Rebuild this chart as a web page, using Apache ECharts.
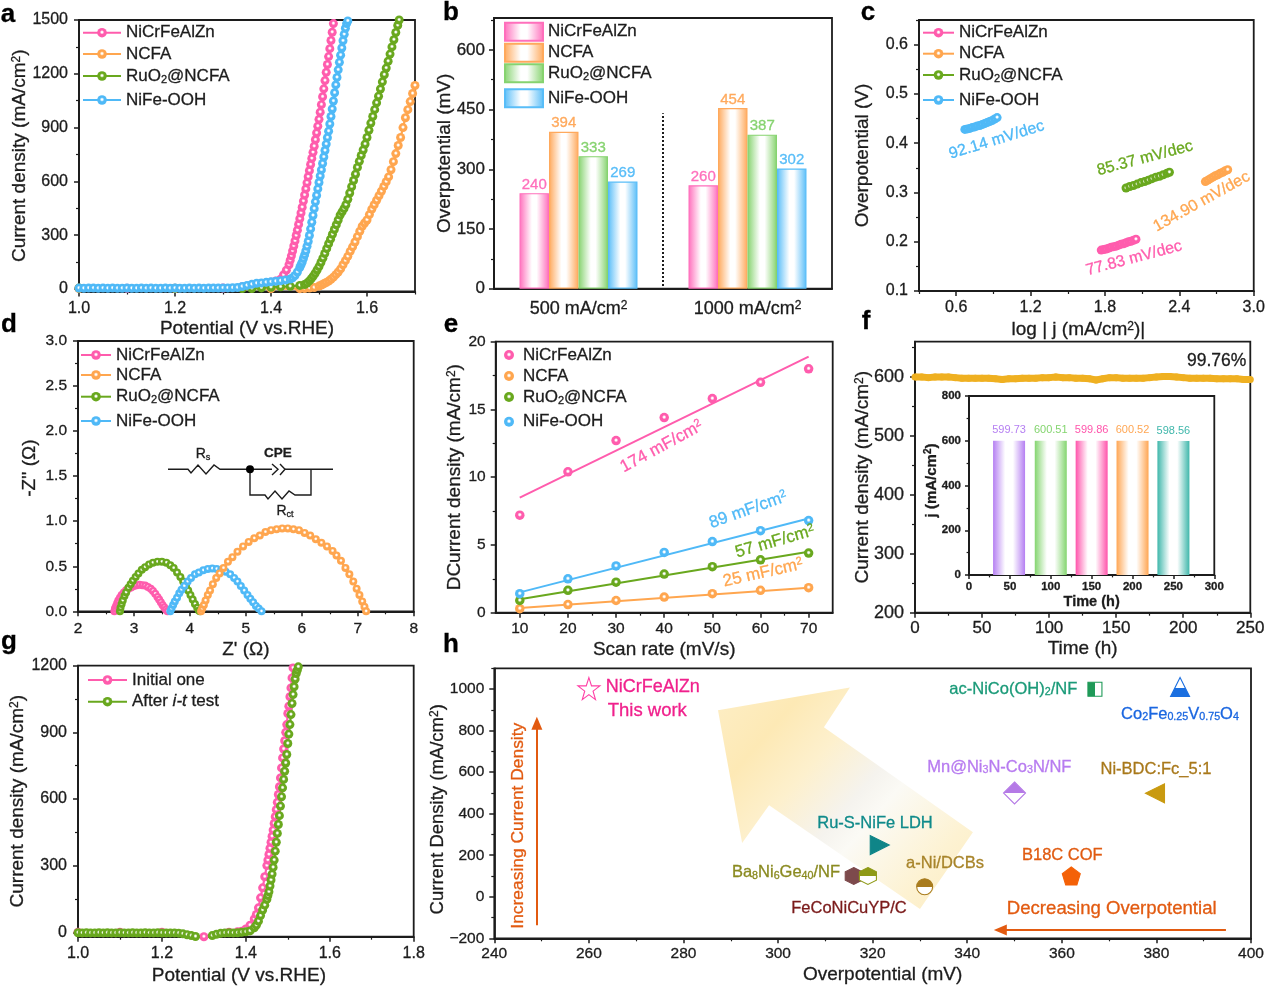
<!DOCTYPE html>
<html><head><meta charset="utf-8">
<style>html,body{margin:0;padding:0;background:#fff}#c{width:1268px;height:987px}</style>
<script src="https://cdn.jsdelivr.net/npm/echarts@6/dist/echarts.min.js"></script>
</head><body><div id="c"></div>
<script>
const PINK='#ff5cad',ORANGE='#ffa64f',GREEN='#69a81e',BLUE='#4fb9f7',INK='#1c1c1c';
const FONT='"Liberation Sans",Arial,sans-serif';

// a: LSV
const aPink=[[1,4],[1.1,4],[1.2,4],[1.3,5],[1.34,12],[1.36,22],[1.38,30],[1.4,38],[1.41,44],[1.42,55],[1.426,78],[1.432,105],[1.4375,135],[1.44,160],[1.4425,185],[1.445,212],[1.4475,240],[1.45,268],[1.4525,298],[1.455,328],[1.4575,360],[1.46,392],[1.4625,424],[1.465,456],[1.4675,490],[1.47,524],[1.4725,558],[1.475,592],[1.4775,626],[1.48,660],[1.4825,694],[1.485,728],[1.4875,762],[1.49,796],[1.4925,832],[1.495,870],[1.4975,908],[1.5,946],[1.5025,986],[1.505,1028],[1.5075,1072],[1.51,1116],[1.5125,1162],[1.515,1208],[1.5175,1252],[1.52,1296],[1.5225,1340],[1.525,1386],[1.5275,1432],[1.53,1480],[1.5325,1505]];
const aOrange=[[1,3],[1.2,3],[1.4,2],[1.46,2],[1.47,3],[1.48,5],[1.49,8],[1.5,16],[1.505,22],[1.51,29],[1.515,36],[1.52,44],[1.525,54],[1.53,66],[1.535,80],[1.54,95],[1.545,112],[1.55,135],[1.555,158],[1.56,182],[1.565,210],[1.57,235],[1.575,262],[1.58,292],[1.585,322],[1.59,350],[1.595,368],[1.6,385],[1.605,415],[1.61,445],[1.615,470],[1.62,495],[1.625,520],[1.63,545],[1.635,572],[1.64,598],[1.645,625],[1.65,665],[1.655,710],[1.66,755],[1.665,800],[1.67,845],[1.675,900],[1.68,955],[1.685,1000],[1.69,1045],[1.695,1090],[1.7,1135]];
const aGreen=[[1,5],[1.2,4],[1.34,3],[1.36,3],[1.38,6],[1.4,10],[1.42,12],[1.44,15],[1.46,20],[1.47,25],[1.475,33],[1.48,45],[1.484,58],[1.488,72],[1.492,88],[1.496,106],[1.5,125],[1.504,148],[1.508,172],[1.512,198],[1.516,225],[1.52,252],[1.524,278],[1.528,305],[1.532,332],[1.536,358],[1.54,385],[1.544,412],[1.548,430],[1.552,448],[1.556,470],[1.56,500],[1.564,535],[1.568,570],[1.572,605],[1.576,640],[1.58,678],[1.584,712],[1.588,745],[1.592,775],[1.596,808],[1.6,845],[1.604,885],[1.608,925],[1.612,962],[1.616,1000],[1.62,1038],[1.624,1075],[1.628,1115],[1.632,1155],[1.636,1195],[1.64,1232],[1.644,1270],[1.648,1310],[1.652,1350],[1.656,1390],[1.66,1430],[1.664,1470],[1.667,1500]];
const aBlue=[[1,5],[1.01,4],[1.02,5],[1.03,5],[1.04,4],[1.05,5],[1.06,4],[1.07,5],[1.08,4],[1.09,4],[1.1,5],[1.11,4],[1.12,4],[1.13,5],[1.14,4],[1.15,5],[1.16,4],[1.17,4],[1.18,5],[1.19,4],[1.2,5],[1.21,4],[1.22,4],[1.23,5],[1.24,4],[1.25,5],[1.26,4],[1.27,5],[1.28,5],[1.29,5],[1.3,6],[1.31,6],[1.32,7],[1.33,8],[1.34,14],[1.35,20],[1.36,26],[1.37,32],[1.38,34],[1.39,37],[1.4,40],[1.41,43],[1.42,46],[1.43,50],[1.44,56],[1.445,62],[1.45,75],[1.455,95],[1.46,120],[1.4625,135],[1.465,150],[1.4675,170],[1.47,190],[1.4725,212],[1.475,238],[1.4775,265],[1.48,298],[1.4825,335],[1.485,372],[1.4875,410],[1.49,448],[1.4925,486],[1.495,522],[1.4975,558],[1.5,594],[1.5025,630],[1.505,664],[1.5075,700],[1.51,736],[1.5125,772],[1.515,808],[1.5175,844],[1.52,880],[1.5225,920],[1.525,962],[1.5275,1004],[1.53,1048],[1.5325,1094],[1.535,1138],[1.5375,1180],[1.54,1222],[1.5425,1264],[1.545,1304],[1.5475,1344],[1.55,1384],[1.5525,1420],[1.555,1454],[1.5575,1480],[1.56,1495],[1.565,1505]];

// b: overpotential bars
const bCats=['500 mA/cm2','1000 mA/cm2'];
const bPink=[240,260],bOrange=[394,454],bGreen=[333,387],bBlue=[269,302];
const bDivider=[[1,7],[1,441]];

// c: Tafel
const cPink=[[1.77,.183],[1.79,.184],[1.81,.185],[1.83,.187],[1.85,.189],[1.87,.19],[1.89,.191],[1.91,.193],[1.93,.195],[1.95,.196],[1.97,.198],[1.99,.2],[2.01,.201],[2.03,.203],[2.05,.205]];
const cBlue=[[.67,.428],[.69,.429],[.71,.43],[.73,.432],[.75,.433],[.77,.435],[.79,.436],[.81,.438],[.83,.44],[.85,.442],[.87,.444],[.89,.446],[.91,.449],[.93,.452]];
const cGreen=[[1.97,.309],[2,.312],[2.03,.314],[2.06,.317],[2.09,.32],[2.12,.322],[2.15,.325],[2.18,.328],[2.21,.331],[2.24,.333],[2.27,.336],[2.3,.339],[2.32,.341]];
const cOrange=[[2.61,.322],[2.63,.325],[2.65,.328],[2.67,.331],[2.69,.334],[2.71,.336],[2.73,.339],[2.75,.341],[2.77,.344],[2.79,.346]];

// d: Nyquist
const dPink=[[2.65,0],[2.66,.03],[2.68,.06],[2.7,.09],[2.72,.12],[2.75,.15],[2.78,.18],[2.82,.21],[2.86,.235],[2.9,.25],[2.95,.265],[3,.28],[3.05,.29],[3.1,.295],[3.15,.29],[3.2,.285],[3.25,.27],[3.3,.25],[3.34,.225],[3.38,.195],[3.42,.16],[3.45,.13],[3.48,.1],[3.51,.07],[3.54,.045],[3.57,.02],[3.6,0]];
const dGreen=[[2.75,0],[2.76,.04],[2.78,.08],[2.8,.12],[2.83,.17],[2.86,.21],[2.9,.26],[2.94,.3],[2.98,.34],[3.03,.38],[3.08,.42],[3.14,.46],[3.2,.49],[3.27,.52],[3.34,.54],[3.42,.55],[3.5,.55],[3.58,.54],[3.65,.51],[3.71,.48],[3.77,.43],[3.83,.38],[3.88,.33],[3.93,.28],[3.97,.23],[4.01,.18],[4.05,.13],[4.09,.08],[4.13,.04],[4.16,.01],[4.18,0]];
const dBlue=[[3.65,0],[3.67,.03],[3.7,.07],[3.73,.11],[3.77,.15],[3.81,.2],[3.85,.24],[3.9,.28],[3.96,.33],[4.02,.37],[4.09,.41],[4.16,.43],[4.24,.455],[4.32,.47],[4.4,.475],[4.48,.47],[4.56,.46],[4.64,.44],[4.72,.41],[4.79,.37],[4.85,.33],[4.91,.28],[4.97,.23],[5.03,.18],[5.08,.14],[5.13,.1],[5.18,.06],[5.23,.03],[5.28,0]];
const dOrange=[[4.2,0],[4.22,.03],[4.25,.07],[4.28,.12],[4.32,.18],[4.36,.23],[4.41,.3],[4.47,.37],[4.53,.42],[4.6,.48],[4.68,.55],[4.76,.6],[4.85,.66],[4.95,.72],[5.05,.77],[5.15,.81],[5.25,.84],[5.35,.88],[5.45,.9],[5.55,.91],[5.65,.92],[5.75,.92],[5.85,.91],[5.95,.9],[6.05,.87],[6.15,.84],[6.25,.8],[6.35,.76],[6.45,.72],[6.55,.67],[6.62,.62],[6.7,.56],[6.78,.48],[6.85,.41],[6.92,.33],[6.98,.25],[7.03,.18],[7.08,.11],[7.12,.05],[7.15,0]];

// e: double layer
const eRates=[10,20,30,40,50,60,70];
const ePink=[7.2,10.4,12.7,14.4,15.8,17.0,18.0];
const eOrange=[.3,.6,.9,1.15,1.4,1.65,1.85];
const eGreen=[.9,1.65,2.25,2.85,3.4,3.9,4.4];
const eBlue=[1.4,2.5,3.45,4.45,5.25,6.05,6.8];
const eFitPink=[[10,8.5],[70,18.9]],eFitOrange=[[10,.35],[70,1.85]],eFitGreen=[[10,1],[70,4.5]],eFitBlue=[[10,1.5],[70,6.95]];

// f: stability + inset
const fTime=[0,5,10,15,20,25,30,35,40,45,50,55,60,65,70,75,80,85,90,95,100,105,110,115,120,125,130,135,140,145,150,155,160,165,170,175,180,185,190,195,200,205,210,215,220,225,230,235,240,245,250];
const fJ=[600,600,599,600,600,600,599,598,598,598,598,598,597,596,597,597,598,598,598,599,599,600,599,599,598,598,597,595,597,599,599,598,598,598,598,599,600,601,601,600,599,598,598,598,598,597,597,597,597,596,596];
const insetX=[49,100,150,200,250];
const insetJ=[599.73,600.51,599.86,600.52,598.56];
const insetLabels=['599.73','600.51','599.86','600.52','598.56'];
const insetColors=['#b57ff2','#84d56f','#ff54ab','#ffa653','#3fb7ab'];

// g: before/after
const gGreen=[[1,-2],[1.01,-3],[1.02,-2],[1.03,-3],[1.04,-3],[1.05,-2],[1.06,-3],[1.07,-2],[1.08,-3],[1.09,-3],[1.1,-2],[1.11,-3],[1.12,-3],[1.13,-2],[1.14,-3],[1.15,-3],[1.16,-2],[1.17,-3],[1.18,-3],[1.19,-2],[1.2,-3],[1.21,-3],[1.22,-3],[1.23,-3],[1.24,-4],[1.25,-7],[1.26,-11],[1.27,-15],[1.28,-19],[1.29,-24],[1.3,-27],[1.31,-22],[1.32,-15],[1.33,-9],[1.34,-5],[1.35,-3],[1.36,-2],[1.37,-3],[1.38,-2],[1.39,0],[1.4,2],[1.41,6],[1.42,20],[1.425,32],[1.43,50],[1.435,75],[1.44,100],[1.445,122],[1.45,148],[1.4525,165],[1.455,182],[1.4575,208],[1.46,235],[1.4625,262],[1.465,292],[1.4675,325],[1.47,365],[1.4725,405],[1.475,445],[1.4775,485],[1.48,525],[1.4825,568],[1.485,610],[1.4875,650],[1.49,688],[1.4925,725],[1.495,762],[1.4975,800],[1.5,850],[1.5025,892],[1.505,935],[1.5075,980],[1.51,1030],[1.5125,1070],[1.515,1105],[1.5175,1140],[1.52,1165],[1.5225,1180],[1.525,1195],[1.5275,1210]];
const gPink=[[1,0],[1.1,0],[1.2,0],[1.3,-20],[1.36,0],[1.38,2],[1.39,5],[1.4,15],[1.41,32],[1.42,60],[1.425,80],[1.43,110],[1.435,155],[1.44,200],[1.445,250],[1.45,300],[1.4525,325],[1.455,350],[1.4575,378],[1.46,405],[1.4625,432],[1.465,460],[1.4675,490],[1.47,520],[1.4725,552],[1.475,585],[1.4775,620],[1.48,655],[1.4825,695],[1.485,740],[1.4875,785],[1.49,825],[1.4925,862],[1.495,900],[1.4975,935],[1.5,985],[1.5025,1018],[1.505,1060],[1.5075,1100],[1.51,1145],[1.5125,1190],[1.515,1230]];

// h: comparison
const hNames=['NiCrFeAlZn','FeCoNiCuYP/C','Ba8Ni6Ge40/NF','a-Ni/DCBs','Ru-S-NiFe LDH','B18C COF','Mn@Ni3N-Co3N/NF','Ni-BDC:Fc_5:1','ac-NiCo(OH)2/NF','Co2Fe0.25V0.75O4'];
const hX=[260,316,319,331,321.5,362,350,379.7,367,385];
const hY=[1002,100,100,48,249,100,500,498,999,1010];
const hArrow=[[287.3,898],[315.2,1008],[309.7,816],[341.2,311],[330,-59],[298.1,441],[292.4,259]];
const hUpArrow=[[249,-137],[249,835]];
const hLeftArrow=[[394.7,-160],[347,-160]];

// ---------- helpers ----------
const grid=[],xAxis=[],yAxis=[],series=[],legend=[],graphic=[];
const HEAVY={textBorderColor:INK,textBorderWidth:.3};
const supR=s=>({sup:Object.assign({fontSize:Math.round(s*.65),fontFamily:FONT,color:INK,padding:[0,0,7,0]},HEAVY),sub:Object.assign({fontSize:Math.round(s*.65),fontFamily:FONT,color:INK,padding:[6,0,0,0]},HEAVY)});
function axisCommon(o){
  return Object.assign({min:o.min,max:o.max,position:o.position,gridIndex:o.g,type:'value',scale:true,splitLine:{show:false},
    axisLine:{show:true,onZero:false,lineStyle:{color:INK,width:o.lw||2}}},o.extra||{});
}
function panel(p){
  const g=grid.length, lw=p.lw||1.8;
  grid.push({left:p.l,top:p.t,width:p.r-p.l,height:p.b-p.t,show:true,borderColor:INK,borderWidth:lw,backgroundColor:'transparent',containLabel:false});
  const fs=p.fs||16, ns=p.ns||19, w=p.w||'normal';
  const ix=xAxis.length, iy=yAxis.length;
  const lab=(vals,dec,size,margin)=>Object.assign({show:true,customValues:vals,fontSize:size,fontWeight:w,color:INK,fontFamily:FONT,margin,
    formatter:v=>Number(v).toFixed(dec).replace('-','\u2212')},HEAVY);
  const nm=(txt,gap,size,extra)=>({name:txt,nameLocation:'middle',nameGap:gap,nameMoveOverlap:false,nameTextStyle:Object.assign({fontSize:size,fontWeight:w,color:INK,fontFamily:FONT,verticalAlign:'middle',rich:supR(size)},HEAVY,extra||{})});
  xAxis.push(Object.assign(axisCommon({g,min:p.x[0],max:p.x[1],position:'bottom',lw}),
    {axisTick:{show:true,customValues:p.xMajor,length:p.tick||5,lineStyle:{color:INK,width:1.5}},
     axisLabel:lab(p.xMajor,p.xDec||0,p.xfs||fs,p.xm||9)},nm(p.xName,p.xGap,p.xns||ns,p.xNameExtra)));
  xAxis.push(Object.assign(axisCommon({g,min:p.x[0],max:p.x[1],position:'bottom',lw}),
    {axisLine:{show:false,onZero:false},axisLabel:{show:false},axisTick:{show:true,customValues:p.xMinor,length:(p.tick||5)*.6,lineStyle:{color:INK,width:1.2}}}));
  yAxis.push(Object.assign(axisCommon({g,min:p.y[0],max:p.y[1],position:'left',lw}),
    {axisTick:{show:true,customValues:p.yMajor,length:p.tick||5,lineStyle:{color:INK,width:1.5}},
     axisLabel:lab(p.yMajor,p.yDec||0,p.yfs||fs,p.ym||11)},nm(p.yName,p.yGap,p.yns||ns,p.yNameExtra)));
  yAxis.push(Object.assign(axisCommon({g,min:p.y[0],max:p.y[1],position:'left',lw}),
    {axisLine:{show:false,onZero:false},axisLabel:{show:false},axisTick:{show:true,customValues:p.yMinor,length:(p.tick||5)*.6,lineStyle:{color:INK,width:1.2}}}));
  return {g,ix,iy};
}
const ball=c=>({type:'radial',x:.5,y:.45,r:.55,colorStops:[{offset:0,color:'#fff'},{offset:.14,color:'#fff'},{offset:.42,color:c},{offset:1,color:c}]});
function chain(P,name,data,color,size,lw){
  series.push({type:'line',name,xAxisIndex:P.ix,yAxisIndex:P.iy,data,symbol:'circle',symbolSize:size,showSymbol:true,
    lineStyle:{color,width:lw||2.2},itemStyle:{color:ball(color),borderWidth:0},silent:true,animation:false,z:3});
}
function items(list,left,iw,ih,icon){
  list.forEach(([name,yc])=>legend.push(Object.assign({show:true,left,top:yc-9,padding:0,orient:'horizontal',itemWidth:iw,itemHeight:ih,selectedMode:false,
    data:[name],formatter:n=>n.split('#')[0].replace('RuO2','RuO{sub|2}').replace('After i-t test','After {it|i-t} test'),
    textStyle:Object.assign({fontSize:17,color:INK,fontFamily:FONT,lineHeight:20,rich:{sub:Object.assign({fontSize:11,fontFamily:FONT,color:INK,padding:[7,0,0,0],lineHeight:20},HEAVY),it:Object.assign({fontSize:17,fontStyle:'italic',color:INK,fontFamily:FONT,lineHeight:20},HEAVY)}},HEAVY)},icon?{icon}:{})));
}
function T(text,x,y,fill,size,rotDeg,opt){
  opt=opt||{};
  const s=size||16,c=fill||INK;
  graphic.push({type:'text',x,y,rotation:(rotDeg||0)*Math.PI/180,silent:true,z:20,style:{text,fill:c,stroke:c,lineWidth:.3,fontSize:s,fontFamily:FONT,fontWeight:opt.w||'normal',align:opt.align||'center',verticalAlign:'middle',
    rich:{sup:{fontSize:s*.65,fontFamily:FONT,fill:c,stroke:c,lineWidth:.3,padding:[0,0,7,0]},sub:{fontSize:s*.65,fontFamily:FONT,fill:c,stroke:c,lineWidth:.3,padding:[6,0,0,0]}}}});
}
const L=(pts,lw)=>graphic.push({type:'polyline',silent:true,z:20,shape:{points:pts},style:{stroke:INK,lineWidth:lw||1.4,fill:null}});

// ---------- a ----------
const pa=panel({l:79,r:415,t:20,b:291.5,x:[1,1.7],y:[-14,1500],xMajor:[1,1.2,1.4,1.6],xMinor:[1.1,1.3,1.5,1.7],xDec:1,yMajor:[0,300,600,900,1200,1500],yMinor:[150,450,750,1050,1350],
  xName:'Potential (V vs.RHE)',xGap:37,yName:'Current density (mA/cm{sup|2})',yGap:59});
chain(pa,'NiCrFeAlZn#a',aPink,PINK,9);chain(pa,'NCFA#a',aOrange,ORANGE,9);chain(pa,'RuO2@NCFA#a',aGreen,GREEN,9);chain(pa,'NiFe-OOH#a',aBlue,BLUE,9);
items([['NiCrFeAlZn#a',31.7],['NCFA#a',53],['RuO2@NCFA#a',75],['NiFe-OOH#a',99]],82,38,12);

// ---------- b ----------
const gb=grid.length;
grid.push({left:494,top:18,width:338,height:270.7,show:true,borderColor:INK,borderWidth:1.8,backgroundColor:'transparent'});
const bx=xAxis.length,by=yAxis.length;
xAxis.push({type:'category',gridIndex:gb,data:bCats,position:'bottom',axisLine:{show:true,onZero:false,lineStyle:{color:INK,width:2}},axisTick:{show:false},
  axisLabel:Object.assign({interval:0,hideOverlap:false,fontSize:18,color:INK,fontFamily:FONT,margin:11,formatter:v=>v.replace(/2$/,'{sup|2}'),rich:supR(18)},HEAVY)});
xAxis.push({type:'value',gridIndex:gb,min:0,max:2,show:false});
yAxis.push({type:'value',gridIndex:gb,min:0,max:680,position:'left',splitLine:{show:false},axisLine:{show:true,onZero:false,lineStyle:{color:INK,width:2}},
  axisTick:{show:true,customValues:[0,150,300,450,600],length:5,lineStyle:{color:INK,width:1.5}},
  axisLabel:Object.assign({customValues:[0,150,300,450,600],fontSize:17,color:INK,fontFamily:FONT,margin:9},HEAVY),
  name:'Overpotential (mV)',nameLocation:'middle',nameGap:49,nameMoveOverlap:false,nameTextStyle:Object.assign({fontSize:19,color:INK,fontFamily:FONT,verticalAlign:'middle'},HEAVY)});
yAxis.push({type:'value',gridIndex:gb,min:0,max:680,position:'left',splitLine:{show:false},axisLine:{show:false,onZero:false},axisLabel:{show:false},
  axisTick:{show:true,customValues:[75,225,375,525,675],length:3,lineStyle:{color:INK,width:1.2}}});
const barGrad=c=>({type:'linear',x:0,y:0,x2:1,y2:0,colorStops:[{offset:0,color:c},{offset:.42,color:'#fff'},{offset:.58,color:'#fff'},{offset:1,color:c}]});
[['NiCrFeAlZn#b',bPink,'#ff6fbc'],['NCFA#b',bOrange,'#ffa95c'],['RuO2@NCFA#b',bGreen,'#86d36f'],['NiFe-OOH#b',bBlue,'#58bdf8']].forEach(([n,d,c])=>{
  series.push({type:'bar',name:n,xAxisIndex:bx,yAxisIndex:by,data:d,barWidth:29.5,barGap:'0%',animation:false,silent:true,
    itemStyle:{color:barGrad(c),borderColor:c,borderWidth:1.2},
    label:{show:true,position:'top',distance:1,fontSize:15,color:c,fontFamily:FONT,textBorderColor:c,textBorderWidth:.3}});
});
series.push({type:'line',name:'divider',xAxisIndex:bx+1,yAxisIndex:by,data:bDivider,symbol:'none',lineStyle:{color:INK,type:'dotted',width:2},animation:false,silent:true});
items([['NiCrFeAlZn#b',30.7],['NCFA#b',51.7],['RuO2@NCFA#b',72.3],['NiFe-OOH#b',97.3]],504,38,18,'rect');

// ---------- c ----------
const pc=panel({l:919,r:1256,t:20,b:291,x:[.3,3],y:[.1,.65],xMajor:[.6,1.2,1.8,2.4,3],xMinor:[.3,.9,1.5,2.1,2.7],xDec:1,yMajor:[.1,.2,.3,.4,.5,.6],yMinor:[.15,.25,.35,.45,.55,.65],yDec:1,
  xName:'log | j (mA/cm{sup|2})|',xGap:39,yName:'Overpotential (V)',yGap:56,xNameExtra:{padding:[0,16,0,0]}});
chain(pc,'NiCrFeAlZn#c',cPink,PINK,9);chain(pc,'NCFA#c',cOrange,ORANGE,9);chain(pc,'RuO2@NCFA#c',cGreen,GREEN,9);chain(pc,'NiFe-OOH#c',cBlue,BLUE,9);
items([['NiCrFeAlZn#c',31.7],['NCFA#c',52.7],['RuO2@NCFA#c',74],['NiFe-OOH#c',99]],922,31,12);
T('92.14 mV/dec',996.7,140,BLUE,16,17);
T('85.37 mV/dec',1145,158.3,GREEN,16,14.8);
T('134.90 mV/dec',1201.7,201.7,ORANGE,16,29);
T('77.83 mV/dec',1134,258.3,PINK,16,14.8);

// ---------- d ----------
const pd=panel({l:78,r:413.7,t:341,b:611.3,x:[2,8],y:[0,3],xMajor:[2,3,4,5,6,7,8],xMinor:[2.5,3.5,4.5,5.5,6.5,7.5],yMajor:[0,.5,1,1.5,2,2.5,3],yMinor:[.25,.75,1.25,1.75,2.25,2.75],yDec:1,
  xName:"Z' (\u03a9)",xGap:38,yName:"-Z'' (\u03a9)",yGap:48,yNameExtra:{padding:[0,0,0,16]},fs:15.5});
chain(pd,'NiCrFeAlZn#d',dPink,PINK,8);chain(pd,'RuO2@NCFA#d',dGreen,GREEN,8);chain(pd,'NiFe-OOH#d',dBlue,BLUE,8);chain(pd,'NCFA#d',dOrange,ORANGE,8);
items([['NiCrFeAlZn#d',354],['NCFA#d',374],['RuO2@NCFA#d',395.7],['NiFe-OOH#d',420]],80,30,12);
L([[168,469.3],[188,469.3],[191,473],[198,465],[206,474],[214,465],[220,469.3],[272,469.3]]);
L([[272,464],[278,469.3],[272,475]]);L([[280,464],[285,469.3],[280,475]]);L([[285,469.3],[333,469.3]]);
L([[250,469.3],[250,495],[265,495],[268,499],[275,491],[282,499],[289,491],[295,495],[311,495],[311,469.3]]);
graphic.push({type:'circle',silent:true,z:20,shape:{cx:250,cy:469.3,r:4},style:{fill:'#000'}});
T('R{sub|s}',203,454,INK,14);T('CPE',278,453.7,INK,13.5,0,{w:'bold'});T('R{sub|ct}',285,511,INK,14);

// ---------- e ----------
const pe=panel({l:495.7,r:832.7,t:341.7,b:612.7,x:[5,75],y:[0,20],xMajor:[10,20,30,40,50,60,70],xMinor:[15,25,35,45,55,65],yMajor:[0,5,10,15,20],yMinor:[2.5,7.5,12.5,17.5],
  xName:'Scan rate (mV/s)',xGap:37,yName:'DCurrent density (mA/cm{sup|2})',yGap:41,fs:15.5,xm:8,ym:10});
[['fitP',eFitPink,PINK],['fitO',eFitOrange,ORANGE],['fitG',eFitGreen,GREEN],['fitB',eFitBlue,BLUE]].forEach(([n,d,c])=>{
  series.push({type:'line',name:n,xAxisIndex:pe.ix,yAxisIndex:pe.iy,data:d,symbol:'none',lineStyle:{color:c,width:2},animation:false,silent:true});
});
[['NiCrFeAlZn#e',ePink,PINK],['NCFA#e',eOrange,ORANGE],['RuO2@NCFA#e',eGreen,GREEN],['NiFe-OOH#e',eBlue,BLUE]].forEach(([n,d,c])=>{
  series.push({type:'scatter',name:n,xAxisIndex:pe.ix,yAxisIndex:pe.iy,data:eRates.map((r,i)=>[r,d[i]]),symbol:'circle',symbolSize:9.5,itemStyle:{color:ball(c),opacity:1},animation:false,silent:true,z:4});
});
items([['NiCrFeAlZn#e',354],['NCFA#e',375],['RuO2@NCFA#e',396],['NiFe-OOH#e',420.7]],504,18,10);
T('174 mF/cm{sup|2}',661.7,446.7,PINK,17,28.4);
T('89 mF/cm{sup|2}',748.3,510,BLUE,17,19.7);
T('57 mF/cm{sup|2}',775,541.7,GREEN,17,16);
T('25 mF/cm{sup|2}',763,573,ORANGE,17,12.7);

// ---------- f ----------
const pf=panel({l:915,r:1250.3,t:341.7,b:612.7,x:[0,250],y:[200,660],xMajor:[0,50,100,150,200,250],xMinor:[25,75,125,175,225],yMajor:[200,300,400,500,600],yMinor:[250,350,450,550,650],
  xName:'Time (h)',xGap:36,yName:'Current density (mA/cm{sup|2})',yGap:52,fs:18,xfs:17,xm:7});
series.push({type:'line',name:'stability',xAxisIndex:pf.ix,yAxisIndex:pf.iy,data:fTime.map((t,i)=>[t,fJ[i]]),symbol:'circle',symbolSize:7,itemStyle:{color:'#efb021'},lineStyle:{color:'#efb021',width:7},animation:false,silent:true,z:3});
T('99.76%',1216.7,360.7,INK,17.5);

// inset
const pi=panel({l:969,r:1214.3,t:396,b:575,x:[0,300],y:[0,800],xMajor:[0,50,100,150,200,250,300],xMinor:[25,75,125,175,225,275],yMajor:[0,200,400,600,800],yMinor:[100,300,500,700],
  xName:'Time (h)',xGap:27,yName:'j (mA/cm{sup|2})',yGap:37,fs:11.5,xns:14.5,yns:15,tick:4,lw:1.8,w:'bold',yNameExtra:{padding:[0,0,0,10]},xm:6,ym:8});
series.push({type:'bar',name:'inset',xAxisIndex:pi.ix,yAxisIndex:pi.iy,animation:false,silent:true,barWidth:32,
  data:insetX.map((x,i)=>({value:[x,insetJ[i]],itemStyle:{color:{type:'linear',x:0,y:0,x2:1,y2:0,colorStops:[{offset:0,color:insetColors[i]},{offset:.38,color:'#fff'},{offset:.62,color:'#fff'},{offset:1,color:insetColors[i]}]}},
    label:{show:true,position:'top',distance:5,fontSize:11,color:insetColors[i],fontFamily:FONT,formatter:insetLabels[i]}}))});

// ---------- g ----------
const pg=panel({l:78,r:413.7,t:665.7,b:936.7,x:[1,1.8],y:[-20,1200],xMajor:[1,1.2,1.4,1.6,1.8],xMinor:[1.1,1.3,1.5,1.7],xDec:1,yMajor:[0,300,600,900,1200],yMinor:[150,450,750,1050],
  xName:'Potential (V vs.RHE)',xGap:39,yName:'Current density (mA/cm{sup|2})',yGap:60,xNameExtra:{padding:[0,14,0,0]}});
chain(pg,'Initial one#g',gPink,PINK,9);chain(pg,'After i-t test#g',gGreen,GREEN,9);
items([['Initial one#g',679],['After i-t test#g',700.7]],87,39,12);

// ---------- h ----------
const ph=panel({l:494.3,r:1251,t:668.3,b:938.3,x:[240,400],y:[-200,1100],xMajor:[240,260,280,300,320,340,360,380,400],xMinor:[250,270,290,310,330,350,370,390],yMajor:[-200,0,200,400,600,800,1000],yMinor:[-100,100,300,500,700,900,1100],
  xName:'Overpotential (mV)',xGap:36,yName:'Current Density (mA/cm{sup|2})',yGap:56,yns:18.5,fs:15.5,xm:7,ym:10,xNameExtra:{padding:[0,0,0,20]},yNameExtra:{padding:[0,12,0,0]}});
series.push({type:'custom',name:'trend',coordinateSystem:'cartesian2d',xAxisIndex:ph.ix,yAxisIndex:ph.iy,data:[hArrow[0]],animation:false,silent:true,z:1,clip:false,
  renderItem:(params,api)=>({type:'polygon',shape:{points:hArrow.map(p=>api.coord(p))},
    style:{fill:{type:'linear',x:0,y:0,x2:1,y2:1,colorStops:[{offset:0,color:'#fdeec6'},{offset:.2,color:'#fde9b5'},{offset:.36,color:'#fdf0cd'},{offset:.52,color:'#f5f3ee'},{offset:.6,color:'#fbfaf5'},{offset:.82,color:'#fdf2d2'},{offset:1,color:'#fcecc0'}]}}})});
const half=(c,dir)=>({type:'linear',x:0,y:0,x2:dir==='h'?1:0,y2:dir==='h'?0:1,colorStops:[{offset:0,color:c},{offset:.5,color:c},{offset:.5,color:'#fff'},{offset:1,color:'#fff'}]});
const halfUp=c=>({type:'linear',x:0,y:0,x2:0,y2:1,colorStops:[{offset:0,color:'#fff'},{offset:.55,color:'#fff'},{offset:.55,color:c},{offset:1,color:c}]});
const HEX='path://M50 0L100 25L100 75L50 100L0 75L0 25Z';
const PENT='path://M50 0L100 37L81 100L19 100L0 37Z';
const STAR='path://M50 0L62 36L100 36L69 59L80 96L50 74L20 96L31 59L0 36L38 36Z';
const hStyles=[
 {s:STAR,z:22,f:'#fff',b:'#ff3ea5'},
 {s:HEX,z:17,f:'#7d4a4c',b:'#7d4a4c'},
 {s:HEX,z:17,f:half('#8f9a17'),b:'#8f9a17'},
 {s:'circle',z:16,f:half('#a97c1e'),b:'#a97c1e'},
 {s:'triangle',z:19,f:'#0f8588',b:'#0f8588',r:-90},
 {s:PENT,z:18,f:'#f46107',b:'#f46107'},
 {s:'diamond',z:22,f:half('#b57ae6'),b:'#b57ae6'},
 {s:'triangle',z:19,f:'#c99a10',b:'#c99a10',r:90},
 {s:'rect',z:14,f:half('#1f9a58','h'),b:'#1f9a58'},
 {s:'triangle',z:19,f:halfUp('#1b6fe0'),b:'#1b6fe0'}];
hNames.forEach((n,i)=>{const st=hStyles[i];
  series.push({type:'scatter',name:n,xAxisIndex:ph.ix,yAxisIndex:ph.iy,data:[[hX[i],hY[i]]],symbol:st.s,symbolSize:st.z,symbolRotate:st.r||0,itemStyle:{color:st.f,borderColor:st.b,borderWidth:1.1,opacity:1},animation:false,silent:true,z:5});
});
const AC='#e25a10';
series.push({type:'line',name:'arrows',xAxisIndex:ph.ix,yAxisIndex:ph.iy,data:[],animation:false,silent:true,
  markLine:{silent:true,animation:false,symbol:['none','triangle'],symbolSize:[11,13],label:{show:false},lineStyle:{color:AC,width:2,type:'solid'},
    data:[[{coord:hUpArrow[0]},{coord:hUpArrow[1]}],[{coord:hLeftArrow[0]},{coord:hLeftArrow[1]}]]}});
T('NiCrFeAlZn',652.7,686.7,'#f0208c',18);T('This work',647.3,711,'#f0208c',18.5);
T('Increasing Current Density',518.3,825.7,AC,17.4,90);
T('Decreasing Overpotential',1111.7,909.3,AC,18.6);
T('ac-NiCo(OH){sub|2}/NF',1013.3,689,'#1a9a78',16.5);
T('Co{sub|2}Fe{sub|0.25}V{sub|0.75}O{sub|4}',1180,714,'#1a66e0',16.5);
T('Mn@Ni{sub|3}N-Co{sub|3}N/NF',999.3,767.3,'#b77bf0',16.5);
T('Ni-BDC:Fc_5:1',1156,769,'#a8781a',16.5);
T('Ru-S-NiFe LDH',875,823,'#0f8a8a',16.5);
T('a-Ni/DCBs',945,863.3,'#a8842a',16.5);
T('B18C COF',1062.3,855.7,'#e05a10',16.5);
T('Ba{sub|8}Ni{sub|6}Ge{sub|40}/NF',786,872.7,'#8a8a20',16.5);
T('FeCoNiCuYP/C',849,908,'#7a1a1a',16.5);

// panel letters
[['a',8,15],['b',451,13],['c',868,13],['d',9,325],['e',451,325],['f',866,322],['g',9,642],['h',451,645]].forEach(([t,x,y])=>T(t,x,y,'#000',26,0,{w:'bold'}));

const chart=echarts.init(document.getElementById('c'),null,{width:1268,height:987});
chart.setOption({animation:false,backgroundColor:'#fff',textStyle:{fontFamily:FONT},grid,xAxis,yAxis,series,legend,graphic});
</script></body></html>
